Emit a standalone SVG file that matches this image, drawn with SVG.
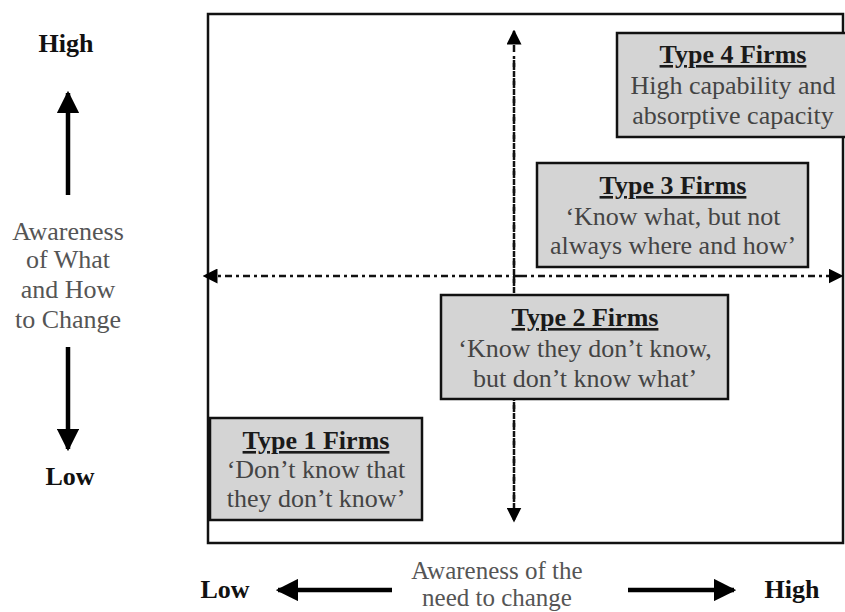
<svg xmlns="http://www.w3.org/2000/svg" width="845" height="612" viewBox="0 0 845 612">
<defs>
<style>
text{font-family:"Liberation Serif","Times New Roman",serif;}
.title{font-size:26px;font-weight:bold;fill:#1a1a1a;text-decoration:underline;text-anchor:middle;}
.body{font-size:26px;fill:#444;text-anchor:middle;}
.axis{font-size:26px;fill:#555;text-anchor:middle;}
.axb{font-size:25px;fill:#555;text-anchor:middle;}
.lvl{font-size:26px;font-weight:bold;fill:#111;text-anchor:middle;}
.box{fill:#d4d4d4;stroke:#111;stroke-width:2.5;}
.dash{stroke:#111;stroke-width:2.5;stroke-dasharray:7 4 3 4;fill:none;}
.thick{stroke:#000;stroke-width:4.5;fill:none;}
</style>
<marker id="sh" viewBox="0 0 10 10" refX="9" refY="5" markerWidth="6" markerHeight="6" markerUnits="strokeWidth" orient="auto"><path d="M0,0L10,5L0,10z" fill="#000"/></marker>
<marker id="bh" viewBox="0 0 10 10" refX="9" refY="5" markerWidth="5" markerHeight="5" markerUnits="strokeWidth" orient="auto"><path d="M0,0L10,5L0,10z" fill="#000"/></marker>
</defs>
<rect x="0" y="0" width="845" height="612" fill="#fff"/>
<g id="frame"><rect x="208" y="14" width="635" height="529" fill="none" stroke="#111" stroke-width="2.5"/></g>
<g id="connectors">
<line class="dash" x1="514" y1="520" x2="514" y2="31" marker-end="url(#sh)"/>
<line class="dash" x1="514" y1="60" x2="514" y2="521" marker-end="url(#sh)"/>
<line class="dash" x1="520" y1="276" x2="204" y2="276" marker-end="url(#sh)"/>
<line class="dash" x1="520" y1="276" x2="842" y2="276" marker-end="url(#sh)"/>
<line class="thick" x1="68" y1="195" x2="68" y2="93" marker-end="url(#bh)"/>
<line class="thick" x1="68" y1="347" x2="68" y2="449" marker-end="url(#bh)"/>
<line class="thick" x1="392" y1="590" x2="278" y2="590" marker-end="url(#bh)"/>
<line class="thick" x1="628" y1="590" x2="734" y2="590" marker-end="url(#bh)"/>
</g>
<g id="type4"><rect class="box" x="617" y="33" width="230" height="104"/>
<text class="title" x="733" y="63">Type 4 Firms</text>
<text class="body" x="733" y="94">High capability and</text>
<text class="body" x="733" y="124">absorptive capacity</text></g>
<g id="type3"><rect class="box" x="537" y="163" width="271" height="104"/>
<text class="title" x="673" y="194">Type 3 Firms</text>
<text class="body" x="673" y="225">‘Know what, but not</text>
<text class="body" x="673" y="254">always where and how’</text></g>
<g id="type2"><rect class="box" x="441" y="295" width="287" height="104"/>
<text class="title" x="585" y="326">Type 2 Firms</text>
<text class="body" x="585" y="357">‘Know they don’t know,</text>
<text class="body" x="585" y="387">but don’t know what’</text></g>
<g id="type1"><rect class="box" x="210" y="418" width="212" height="102"/>
<text class="title" x="316" y="449">Type 1 Firms</text>
<text class="body" x="316" y="478">‘Don’t know that</text>
<text class="body" x="316" y="507">they don’t know’</text></g>
<g id="yaxis">
<text class="lvl" x="66" y="52">High</text>
<text class="axis" x="68" y="240">Awareness</text>
<text class="axis" x="68" y="268">of What</text>
<text class="axis" x="68" y="298">and How</text>
<text class="axis" x="68" y="328">to Change</text>
<text class="lvl" x="70" y="485">Low</text>
</g>
<g id="xaxis">
<text class="lvl" x="225" y="598">Low</text>
<text class="axb" x="497" y="579">Awareness of the</text>
<text class="axb" x="497" y="606">need to change</text>
<text class="lvl" x="792" y="598">High</text>
</g>
</svg>
